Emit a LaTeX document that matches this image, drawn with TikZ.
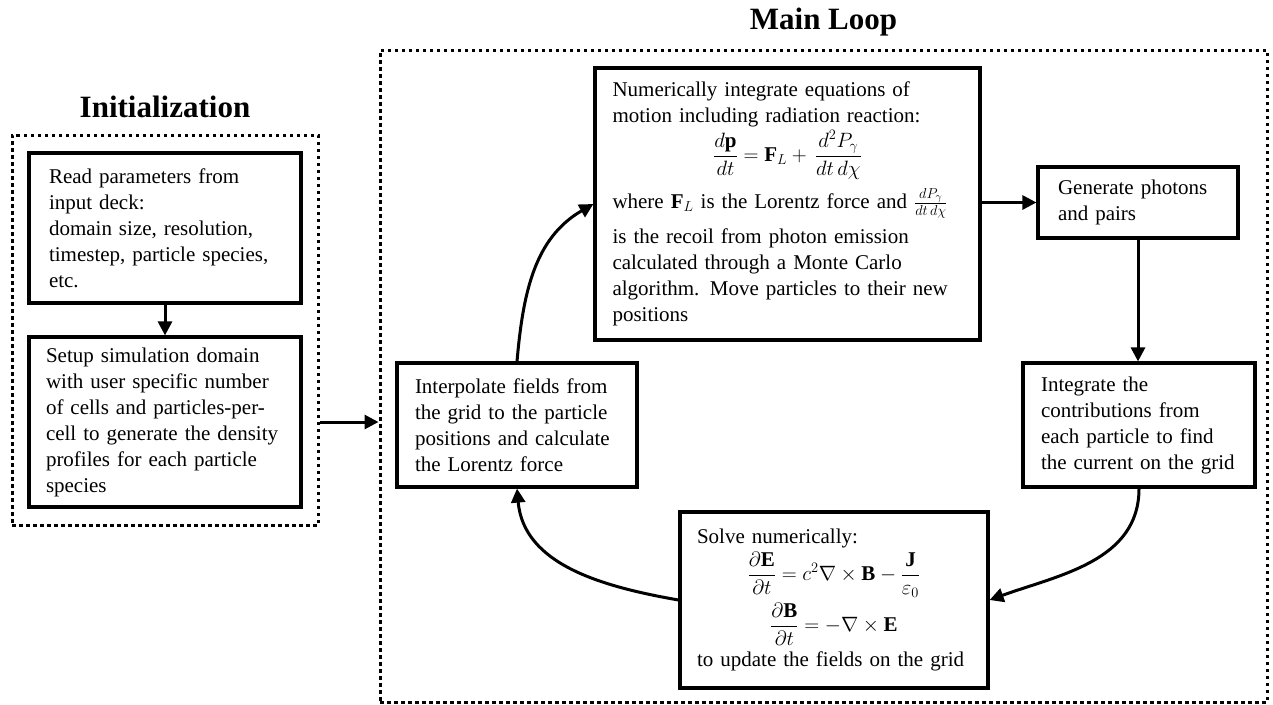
\documentclass[tikz,border=0pt]{standalone}
\usepackage{fontspec}
\setmainfont{Liberation Serif}
\usetikzlibrary{arrows.meta}
\begin{document}
\begin{tikzpicture}[x=1pt,y=-1pt,
  every node/.style={font=\fontsize{21pt}{26pt}\selectfont, inner sep=0pt,
    execute at begin node={\hyphenpenalty=10000\exhyphenpenalty=10000}},
  stepbox/.style n args={3}{draw, line width=3.2pt, align=left,
    minimum width=#1, minimum height=#2, text width=#3},
  region/.style={draw, line width=3pt, dash pattern=on 3.5pt off 3.5pt,
    minimum width=#1},
  heading/.style={font=\fontsize{31pt}{36pt}\selectfont\bfseries},
  flow/.style={line width=3pt, -{Triangle[length=14pt,width=14pt]}}]

\useasboundingbox (0,0) rectangle (1273,704);

% dotted frames of the two stages
\node[region=306pt, minimum height=390pt] (init) at (165,330) {};
\node[region=887pt, minimum height=652pt] (main) at (823.5,376) {};
\node[heading] (initT) at (165,107) {Initialization};
\node[heading] (mainT) at (823.5,22) {Main Loop};

% initialization steps
\node[stepbox={272pt}{150pt}{232pt}] (read) at (165,228)
  {Read parameters from\\ input deck:\\ domain size, resolution,\\ timestep, particle species,\\ etc.};
\node[stepbox={272pt}{170pt}{238pt}] (setup) at (165,422)
  {Setup simulation domain\\ with user specific number\\ of cells and particles-per-\\ cell to generate the density\\ profiles for each particle\\ species};

% main loop steps
\node[stepbox={385pt}{272pt}{350pt}] (push) at (787.5,204)
  {Numerically integrate equations of\\ motion including radiation reaction:\\[2pt]
   \makebox[\hsize]{$\displaystyle\frac{d\mathbf{p}}{dt}=\mathbf{F}_L+\,\frac{d^2P_\gamma}{dt\,d\chi}$}\\[8pt]
   where $\mathbf{F}_L$ is the Lorentz force and $\frac{dP_\gamma}{dt\,d\chi}$\\[9pt]
   is the recoil from photon emission\\ calculated through a Monte Carlo\\
   algorithm. Move particles to their new\\ positions};
\node[stepbox={200pt}{71pt}{160pt}] (gen) at (1138,202.5)
  {Generate photons\\ and pairs};
\node[stepbox={232pt}{124pt}{196pt}] (curr) at (1139,425)
  {Integrate the\\ contributions from\\ each particle to find\\ the current on the grid};
\node[stepbox={240pt}{124pt}{204pt}] (interp) at (517,425)
  {Interpolate fields from\\ the grid to the particle\\ positions and calculate\\ the Lorentz force};
\node[stepbox={308pt}{176pt}{274pt}] (solve) at (834,600)
  {Solve numerically:\\[3pt]
   \makebox[\hsize]{$\displaystyle\frac{\partial\mathbf{E}}{\partial t}=c^2\nabla\times\mathbf{B}-\frac{\mathbf{J}}{\varepsilon_0}$}\\[4pt]
   \makebox[\hsize]{$\displaystyle\frac{\partial\mathbf{B}}{\partial t}=-\nabla\times\mathbf{E}$}\\[5pt]
   to update the fields on the grid};

% connectors
\draw[flow] (read.south) -- (setup.north);
\draw[flow] (init.east |- setup.center) -- (main.west |- setup.center);
\draw[flow] (push.east |- gen.west) -- (gen.west);
\draw[flow] (gen.south) -- (gen.south |- curr.north);
\draw[flow] (curr.south) to[out=-90,in=20] (solve.east);
\draw[flow] (solve.west) to[out=170,in=-85] (interp.south);
\draw[flow] (interp.north) to[out=85,in=210] (push.west);
\end{tikzpicture}
\end{document}
